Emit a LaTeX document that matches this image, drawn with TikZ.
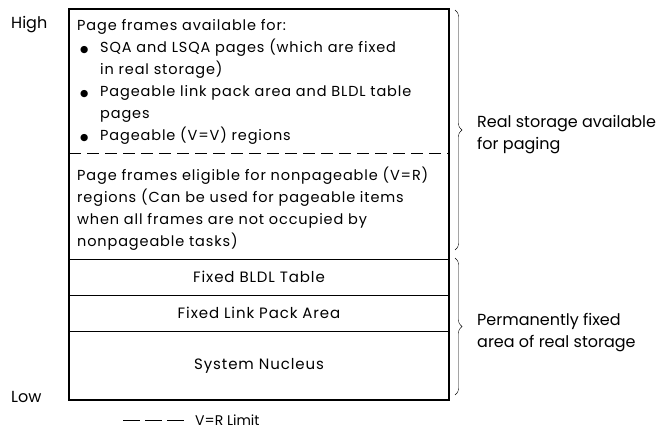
\documentclass[tikz,border=0pt]{standalone}
\usepackage{fontspec}
\setmainfont{Poppins}
\newfontfamily\boxfont{Poppins}[LetterSpace=6]
\newfontfamily\dotfont{DejaVu Sans}
\usetikzlibrary{positioning, decorations.pathreplacing}

\newcommand{\bulitem}{\makebox[23pt][l]{\hspace{3pt}{\dotfont\fontsize{9.5}{10}\selectfont ●}}}
\newcommand{\hang}{\hspace*{23pt}}

\tikzset{
	region/.style={shape=rectangle, minimum width=380pt, inner sep=0pt, outer sep=0pt, font=\boxfont\fontsize{15}{22}\selectfont},
	regiontext/.style={align=left, inner sep=0pt, anchor=north west, font=\boxfont\fontsize{14.5}{22}\selectfont},
	sidetext/.style={align=left, inner sep=0pt, anchor=west, font=\fontsize{16}{22}\selectfont},
	vrlimit/.style={dash pattern=on 12pt off 6pt},
	storagebrace/.style={decorate, decoration={brace, amplitude=7pt}},
}

\begin{document}
\begin{tikzpicture}[x=1pt, y=-1pt]
	\useasboundingbox (0,0) rectangle (670,436);
	% storage areas, high to low
	\node (avail) at (69,9) [region, anchor=north west, minimum height=144] {};
	\node (eligible) [region, below=0pt of avail, minimum height=106] {};
	\node (bldl) [region, below=0pt of eligible, minimum height=36, draw] {Fixed BLDL Table};
	\node (lpa) [region, below=0pt of bldl, minimum height=36, draw] {Fixed Link Pack Area};
	\node (nucleus) [region, below=0pt of lpa, minimum height=69, draw] {System Nucleus};
	\draw[vrlimit] (avail.south west) -- (avail.south east);
	\draw[line width=1.6pt] (avail.north west) rectangle (nucleus.south east);
	\node (availtext) at ([shift={(8,10)}]avail.north west) [regiontext] {Page frames available for:\\
		\bulitem SQA and LSQA pages (which are fixed\\
		\hang in real storage)\\
		\bulitem Pageable link pack area and BLDL table\\
		\hang pages\\
		\bulitem Pageable (V=V) regions};
	\node (eligibletext) at ([shift={(8,14)}]eligible.north west) [regiontext] {Page frames eligible for nonpageable (V=R)\\
		regions (Can be used for pageable items\\
		when all frames are not occupied by\\
		nonpageable tasks)};
	% braces on the right
	\draw[storagebrace] ([shift={(6,1)}]avail.north east) -- ([shift={(6,-9)}]eligible.south east)
		coordinate[midway, xshift=22pt] (pagingtip);
	\draw[storagebrace] ([shift={(6,-1)}]bldl.north east) -- ([shift={(6,-5)}]nucleus.south east)
		coordinate[midway, xshift=22pt] (fixedtip);
	\node (paging) at ([yshift=-5pt]pagingtip) [sidetext] {Real storage available\\for paging};
	\node (fixed) at ([yshift=-6pt]fixedtip) [sidetext] {Permanently fixed\\area of real storage};
	% high and low ends
	\node (high) at (11,25) [sidetext] {High};
	\node (low) at (11,397) [sidetext] {Low};
	% key
	\coordinate (keystart) at (123,420);
	\node (key) at (195,420) [anchor=west, inner sep=0pt, font=\fontsize{14}{16}\selectfont] {V=R Limit};
	\draw[dash pattern=on 17pt off 5pt] (keystart) -- ([xshift=-10pt]key.west);
\end{tikzpicture}
\end{document}
